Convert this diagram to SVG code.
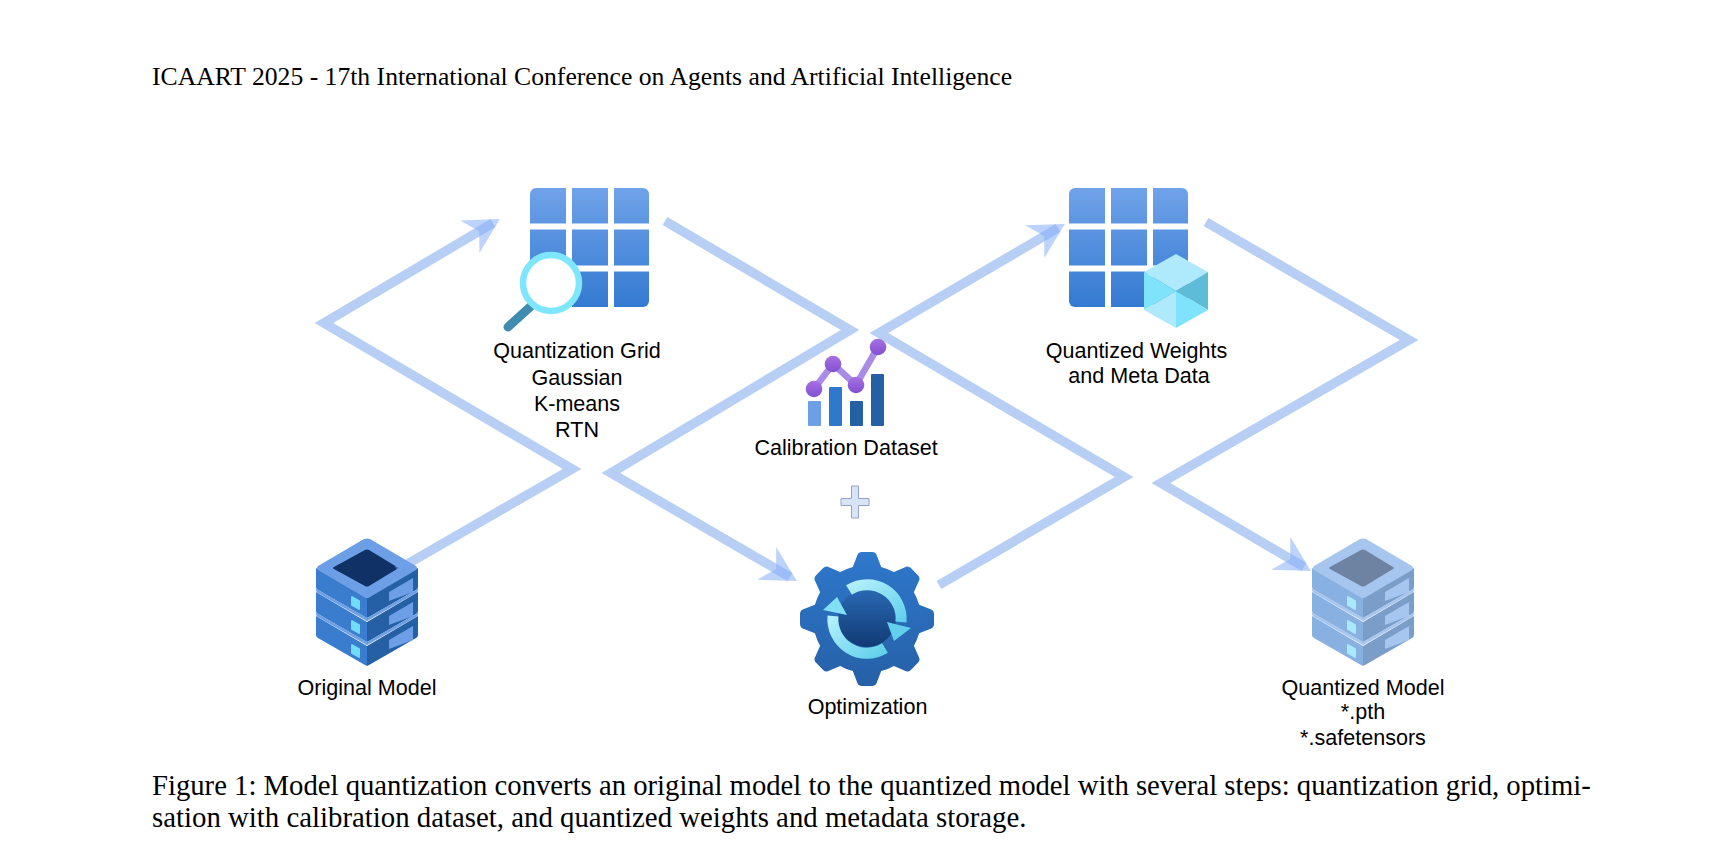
<svg xmlns="http://www.w3.org/2000/svg" width="1722" height="868" viewBox="0 0 1722 868">
<style>
.serif{font-family:"Liberation Serif","Times New Roman",serif;font-size:25.67px;fill:#000}
.cap{font-size:28.7px}
.cap2{font-size:28.82px}
.lab{font-family:"Liberation Sans",Arial,sans-serif;font-size:21.55px;fill:#000;text-anchor:middle}
.conn{fill:none;stroke:#6f9feb;stroke-opacity:.5;stroke-width:9.500;stroke-linejoin:miter;stroke-miterlimit:12;marker-end:url(#head)}
.gl{stroke:#fff;stroke-width:6}
</style>
<defs>
<marker id="head" markerUnits="userSpaceOnUse" markerWidth="54" markerHeight="46" viewBox="-44 -23 54 46" refX="0" refY="0" orient="auto"><path d="M8,0L-27,-19L-16,0L-27,19Z" fill="#86aff7" fill-opacity=".55"/></marker>
<linearGradient id="gridG" x1="0" y1="0" x2="0" y2="1"><stop offset="0" stop-color="#70a2e9"/><stop offset="1" stop-color="#347ad1"/></linearGradient>
<linearGradient id="gearG" x1="0" y1="0" x2="0" y2="1"><stop offset="0" stop-color="#2f79cd"/><stop offset="1" stop-color="#255fa6"/></linearGradient>
<linearGradient id="coreG" x1="0" y1="0" x2="0" y2="1"><stop offset="0" stop-color="#2a69b4"/><stop offset="1" stop-color="#113a74"/></linearGradient>
<linearGradient id="dotG" x1="0" y1="0" x2="0" y2="1"><stop offset="0" stop-color="#a870e2"/><stop offset="1" stop-color="#8050d2"/></linearGradient>
<linearGradient id="ringG" x1="0" y1="0" x2="1" y2="1"><stop offset="0" stop-color="#b4f0fc"/><stop offset="1" stop-color="#62d0ec"/></linearGradient>
<g id="grid"><rect width="119" height="119" rx="6" fill="url(#gridG)"/><path class="gl" d="M39,0V119M81,0V119M0,38.500H119M0,80.500H119"/></g>
<g id="layer">
<path d="M-51,0L0,30L0,50L-2,49L-49,22Q-51,21 -51,19Z" fill="#3a7ccd"/>
<path d="M0,30L51,0L51,19Q51,21 49,22L2,49L0,50Z" fill="#255fa4"/>
<path d="M22,24L46,10L46,24L22,33Z" fill="#6c9fe6"/>
<path d="M-15,29L-8,33V41L-15,37Z" fill="#6fdcfb" stroke="#6fdcfb" stroke-width="2" stroke-linejoin="round"/>
</g>
<path id="strip" d="M-51,20L-49,22L0,50L49,22L51,20V22Q51,24 49,25L2,52Q0,54 -2,52L-49,25Q-51,24 -51,22Z" fill="#6c9fe6"/>
<g id="server">
<use href="#layer"/><use href="#strip"/>
<use href="#layer" y="24"/><use href="#strip" y="24"/>
<use href="#layer" y="48"/>
<path d="M-3,-29Q0,-30 3,-29L49,-2Q51,0 49,2L3,29Q0,31 -3,29L-49,2Q-51,0 -49,-2Z" fill="#6c9fe6"/>
<path d="M-2,-18Q0,-19 2,-18L30,-1Q32,0 30,1L2,18Q0,19 -2,18L-33,1Q-35,0 -33,-1Z" fill="#0f3166"/>
</g>
<path id="tooth" d="M-15,-50L-10,-63Q-9,-67 -5,-67L5,-67Q9,-67 10,-63L15,-50Z"/>
<clipPath id="gearClip"><circle cx="867" cy="619" r="54"/><use href="#tooth" transform="translate(867 619)"/><use href="#tooth" transform="translate(867 619) rotate(45)"/><use href="#tooth" transform="translate(867 619) rotate(90)"/><use href="#tooth" transform="translate(867 619) rotate(135)"/><use href="#tooth" transform="translate(867 619) rotate(180)"/><use href="#tooth" transform="translate(867 619) rotate(225)"/><use href="#tooth" transform="translate(867 619) rotate(270)"/><use href="#tooth" transform="translate(867 619) rotate(315)"/></clipPath>
</defs>
<rect width="1722" height="868" fill="#fff"/>
<text class="serif" x="152" y="84.500">ICAART 2025 - 17th International Conference on Agents and Artificial Intelligence</text>

<g id="node-original-model"><use href="#server" x="367" y="568"/><text class="lab" x="367" y="694.500">Original Model</text></g>

<g id="node-quantization-grid"><use href="#grid" x="530" y="188"/>
<path d="M508,327L530,307" stroke="#3f8cb0" stroke-width="9" stroke-linecap="round"/>
<circle cx="551" cy="283" r="28" fill="#fff" stroke="#7fe6ff" stroke-width="6.500"/>
<text class="lab" x="577" y="358">Quantization Grid</text><text class="lab" x="577" y="384.500">Gaussian</text><text class="lab" x="577" y="410.500">K-means</text><text class="lab" x="577" y="436.500">RTN</text></g>

<g id="node-calibration-dataset">
<rect x="808" y="401" width="13" height="25" rx="1" fill="#6c9fe6"/><rect x="829" y="387" width="13" height="39" rx="1" fill="#2f79cd"/><rect x="850" y="401" width="13" height="25" rx="1" fill="#255fa4"/><rect x="871" y="374" width="13" height="52" rx="1" fill="#255fa4"/>
<path d="M814,389L833,364L856,385L878,347" fill="none" stroke="#a98ce8" stroke-width="6.500"/>
<circle cx="814" cy="389" r="8.300" fill="url(#dotG)"/><circle cx="833" cy="364" r="8.300" fill="url(#dotG)"/><circle cx="856" cy="385" r="8.300" fill="url(#dotG)"/><circle cx="878" cy="347" r="8.300" fill="url(#dotG)"/>
<text class="lab" x="846" y="454.500">Calibration Dataset</text></g>

<g id="node-plus"><path d="M851.500,486H858.500V498.500H869V505.500H858.500V518H851.500V505.500H841V498.500H851.500Z" fill="#dae4f7" stroke="#8fa3cb" stroke-width="1"/></g>

<g id="node-optimization">
<rect x="795" y="547" width="144" height="144" fill="url(#gearG)" clip-path="url(#gearClip)"/>
<circle cx="867" cy="618" r="29" fill="url(#coreG)"/>
<path d="M849,590A34,34 0 0 1 901,622" fill="none" stroke="url(#ringG)" stroke-width="11"/>
<path d="M887,622L911,628L894,641Z" fill="#62d0ec"/>
<path d="M885,648A34,34 0 0 1 833,616" fill="none" stroke="url(#ringG)" stroke-width="11"/>
<path d="M823,610L837,597L847,615Z" fill="#7fe0f6"/>
<text class="lab" x="867.500" y="714">Optimization</text></g>

<g id="node-quantized-weights"><use href="#grid" x="1069" y="188"/>
<path d="M1176,254L1208,272L1176,291L1144,272Z" fill="#aeeafc"/><path d="M1144,272L1176,291L1144,310Z" fill="#7fe3fc"/><path d="M1208,272L1176,291L1208,310Z" fill="#5fbcd8"/><path d="M1144,310L1176,291L1176,328Z" fill="#aeeafc"/><path d="M1208,310L1176,291L1176,328Z" fill="#7fe3fc"/>
<text class="lab" x="1136.500" y="358">Quantized Weights</text><text class="lab" x="1139" y="383">and Meta Data</text></g>

<g id="node-quantized-model"><use href="#server" x="1363" y="568" opacity=".6"/><text class="lab" x="1363" y="694.500">Quantized Model</text><text class="lab" x="1363" y="719">*.pth</text><text class="lab" x="1363" y="745">*.safetensors</text></g>

<g id="connectors">
<path class="conn" d="M397,570L572,469L324,323L493,223"/>
<path class="conn" d="M665,221L850,330L611,473L790,577"/>
<path class="conn" d="M939,585L1124,477L879,333L1058,228"/>
<path class="conn" d="M1206,222L1409,340L1161,483L1304,567"/>
</g>

<text class="serif cap" x="152" y="795">Figure 1: Model quantization converts an original model to the quantized model with several steps: quantization grid, optimi-</text>
<text class="serif cap2" x="152" y="827">sation with calibration dataset, and quantized weights and metadata storage.</text>
</svg>
